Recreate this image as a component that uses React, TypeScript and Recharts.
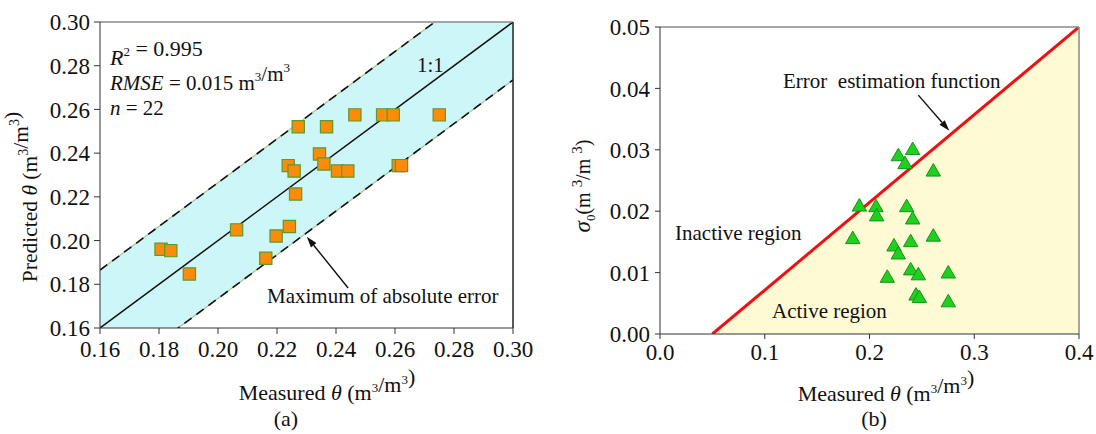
import React from "react";
import {
  ComposedChart,
  Scatter,
  Line,
  Area,
  XAxis,
  YAxis,
  ZAxis,
  ReferenceLine,
} from "recharts";

// panel (a): measured vs predicted soil moisture
const measuredA = [
  0.2272, 0.2368, 0.2464, 0.2558, 0.2594, 0.275, 0.2344, 0.2359, 0.2238, 0.2258, 0.2405,
  0.244, 0.2611, 0.2622, 0.2263, 0.1807, 0.184, 0.1903, 0.2063, 0.2197, 0.2162, 0.2242,
];
const predictedA = [
  0.2521, 0.2521, 0.2575, 0.2575, 0.2575, 0.2575, 0.2396, 0.235, 0.2343, 0.2318, 0.2318,
  0.2318, 0.2343, 0.2343, 0.2213, 0.196, 0.1954, 0.1847, 0.2049, 0.2021, 0.1919, 0.2064,
];
const ticksA = [0.16, 0.18, 0.2, 0.22, 0.24, 0.26, 0.28, 0.3];

// 1:1 line and the max absolute error band
const oneToOneX = [0.16, 0.3];
const oneToOneY = [0.16, 0.3];
const bandLow = [0.1335, 0.2735];
const bandHigh = [0.1865, 0.3265];

// panel (b): sigma0 vs measured
const measuredB = [
  0.2275, 0.2412, 0.2339, 0.2609, 0.1903, 0.2062, 0.2355, 0.2068, 0.2412, 0.184, 0.2609,
  0.2234, 0.2393, 0.2275, 0.217, 0.2393, 0.2466, 0.2752, 0.2444, 0.2476, 0.2752,
];
const sigmaB = [
  0.0289, 0.0299, 0.0276, 0.0264, 0.0207, 0.0206, 0.0206, 0.0191, 0.0186, 0.0154, 0.0158,
  0.0142, 0.0149, 0.0129, 0.0091, 0.0103, 0.0095, 0.0098, 0.0062, 0.0058, 0.0051,
];
const xTicksB = [0, 0.1, 0.2, 0.3, 0.4];
const yTicksB = [0, 0.01, 0.02, 0.03, 0.04, 0.05];

// error estimation function
const errFnX = [0.05, 0.4];
const errFnY = [0, 0.05];

const FONT = "'Liberation Serif', 'Times New Roman', serif";
const tickStyle = { fontSize: 23, fill: "#111", fontFamily: FONT };

const scatterA = measuredA.map((x, i) => ({ x, y: predictedA[i] }));
const lineA = oneToOneX.map((x, i) => ({ x, y: oneToOneY[i] }));
const bandA = oneToOneX.map((x, i) => ({ x, range: [bandLow[i], bandHigh[i]] }));
const upperA = oneToOneX.map((x, i) => ({ x, y: bandHigh[i] }));
const lowerA = oneToOneX.map((x, i) => ({ x, y: bandLow[i] }));
const scatterB = measuredB.map((x, i) => ({ x, y: sigmaB[i] }));
const errFn = errFnX.map((x, i) => ({ x, y: errFnY[i] }));

const Arrow = (props: any) => {
  const { x1, y1, x2, y2 } = props;
  const a = Math.atan2(y2 - y1, x2 - x1);
  const len = 11;
  const w = 3.5;
  const bx = x2 - len * Math.cos(a);
  const by = y2 - len * Math.sin(a);
  const px = -Math.sin(a) * w;
  const py = Math.cos(a) * w;
  return (
    <g>
      <line x1={x1} y1={y1} x2={bx} y2={by} stroke="#111" strokeWidth={1.4} />
      <polygon points={`${x2},${y2} ${bx + px},${by + py} ${bx - px},${by - py}`} fill="#111" />
    </g>
  );
};

const sup = (t: string, size = 13, shift = 9) => (
  <>
    <tspan dy={-shift} fontSize={size}>
      {t}
    </tspan>
    <tspan dy={shift}>{""}</tspan>
  </>
);

const MeasuredLabel = ({ x, y }: { x: number; y: number }) => (
  <text x={x} y={y} textAnchor="middle" fontSize={22}>
    <tspan>Measured </tspan>
    <tspan fontStyle="italic">θ</tspan>
    <tspan> (m</tspan>
    {sup("3", 13, 8)}
    <tspan>/m</tspan>
    {sup("3", 13, 8)}
    <tspan>)</tspan>
  </text>
);

export default function App() {
  return (
    <div
      style={{
        position: "absolute",
        left: 0,
        top: 0,
        width: 1096,
        height: 434,
        background: "#fff",
        overflow: "hidden",
      }}
    >
      <div style={{ position: "absolute", left: 0, top: 0 }}>
        <ComposedChart width={540} height={434} margin={{ top: 22, right: 27, bottom: 66, left: 0 }}>
          <XAxis
            type="number"
            dataKey="x"
            domain={[0.16, 0.3]}
            ticks={ticksA}
            tickFormatter={(v: number) => v.toFixed(2)}
            allowDataOverflow
            height={40}
            tick={tickStyle}
            tickSize={6}
            tickMargin={7}
            stroke="#333"
          />
          <YAxis
            type="number"
            dataKey="y"
            domain={[0.16, 0.3]}
            ticks={ticksA}
            tickFormatter={(v: number) => v.toFixed(2)}
            allowDataOverflow
            width={100}
            tick={tickStyle}
            tickSize={6}
            tickMargin={4}
            stroke="#333"
          />
          <ZAxis range={[150, 150]} />
          <Area
            data={bandA}
            dataKey="range"
            fill="#cdf6f9"
            fillOpacity={1}
            stroke="#a9c48a"
            strokeWidth={1.2}
            isAnimationActive={false}
          />
          <Line data={upperA} dataKey="y" stroke="#111" strokeWidth={1.6} strokeDasharray="9 6" dot={false} isAnimationActive={false} />
          <Line data={lowerA} dataKey="y" stroke="#111" strokeWidth={1.6} strokeDasharray="9 6" dot={false} isAnimationActive={false} />
          <Line data={lineA} dataKey="y" stroke="#111" strokeWidth={1.5} dot={false} isAnimationActive={false} />
          <ReferenceLine y={0.3} stroke="#8a8a8a" strokeWidth={1.5} />
          <ReferenceLine x={0.3} stroke="#222" strokeWidth={1.5} />
          <ReferenceLine
            segment={[
              { x: 0.2441, y: 0.1783 },
              { x: 0.2301, y: 0.2018 },
            ]}
            shape={Arrow}
            ifOverflow="visible"
          />
          <Scatter
            data={scatterA}
            shape="square"
            fill="#fb8b0a"
            stroke="#5b9a2c"
            strokeWidth={1.2}
            isAnimationActive={false}
          />
        </ComposedChart>
      </div>

      <div style={{ position: "absolute", left: 540, top: 0 }}>
        <ComposedChart width={556} height={434} margin={{ top: 27, right: 17, bottom: 60, left: 0 }}>
          <XAxis
            type="number"
            dataKey="x"
            domain={[0, 0.4]}
            ticks={xTicksB}
            tickFormatter={(v: number) => v.toFixed(1)}
            allowDataOverflow
            height={40}
            tick={tickStyle}
            tickSize={5}
            tickMargin={5}
            stroke="#333"
          />
          <YAxis
            type="number"
            dataKey="y"
            domain={[0, 0.05]}
            ticks={yTicksB}
            tickFormatter={(v: number) => v.toFixed(2)}
            allowDataOverflow
            width={120}
            tick={tickStyle}
            tickSize={5}
            tickMargin={5}
            stroke="#333"
          />
          <ZAxis range={[90, 90]} />
          <Area
            data={errFn}
            dataKey="y"
            baseValue={0}
            fill="#fdfad4"
            fillOpacity={1}
            stroke="none"
            isAnimationActive={false}
          />
          <Line data={errFn} dataKey="y" stroke="#ee1111" strokeWidth={3} dot={false} isAnimationActive={false} />
          <ReferenceLine y={0.05} stroke="#8a8a8a" strokeWidth={1.5} />
          <ReferenceLine x={0.4} stroke="#8a8a8a" strokeWidth={1.5} />
          <ReferenceLine
            segment={[
              { x: 0.2466, y: 0.0389 },
              { x: 0.2762, y: 0.0331 },
            ]}
            shape={Arrow}
            ifOverflow="visible"
          />
          <Scatter
            data={scatterB}
            shape="triangle"
            fill="#1fd01f"
            stroke="#14931a"
            strokeWidth={1}
            isAnimationActive={false}
          />
        </ComposedChart>
      </div>

      <svg
        width={1096}
        height={434}
        style={{ position: "absolute", left: 0, top: 0, pointerEvents: "none" }}
        fontFamily={FONT}
        fontSize={21}
        fill="#111"
      >
        {/* panel (a) annotations */}
        <text x={110} y={65} fontSize={22}>
          <tspan fontStyle="italic">R</tspan>
          {sup("2")}
          <tspan> = 0.995</tspan>
        </text>
        <text x={110} y={90}>
          <tspan fontStyle="italic">RMSE</tspan>
          <tspan> = 0.015 m</tspan>
          {sup("3")}
          <tspan>/m</tspan>
          {sup("3")}
        </text>
        <text x={110} y={115}>
          <tspan fontStyle="italic">n</tspan>
          <tspan> = 22</tspan>
        </text>
        <text x={417} y={72}>1:1</text>
        <text x={267} y={303}>Maximum of absolute error</text>

        <MeasuredLabel x={327} y={400} />
        <text x={286} y={426} textAnchor="middle" fontSize={22}>(a)</text>
        <text transform="translate(37,197) rotate(-90)" textAnchor="middle" fontSize={21.5}>
          <tspan>Predicted </tspan>
          <tspan fontStyle="italic">θ</tspan>
          <tspan> (m</tspan>
          {sup("3", 14)}
          <tspan>/m</tspan>
          {sup("3", 14)}
          <tspan>)</tspan>
        </text>

        {/* panel (b) annotations */}
        <text x={783} y={88} style={{ whiteSpace: "pre" }}>
          Error  estimation function
        </text>
        <text x={675} y={240}>Inactive region</text>
        <text x={772} y={318}>Active region</text>
        <MeasuredLabel x={886} y={401} />
        <text x={874} y={426} textAnchor="middle" fontSize={22}>(b)</text>
        <text transform="translate(590,186) rotate(-90)" textAnchor="middle" fontSize={20}>
          <tspan fontStyle="italic" fontSize={23}>σ</tspan>
          <tspan dy={5} fontSize={13}>0</tspan>
          <tspan dy={-5}>(m </tspan>
          <tspan dy={-8} fontSize={15}>3</tspan>
          <tspan dy={8}>/m </tspan>
          <tspan dy={-8} fontSize={15}>3</tspan>
          <tspan dy={8}>)</tspan>
        </text>
      </svg>
    </div>
  );
}
